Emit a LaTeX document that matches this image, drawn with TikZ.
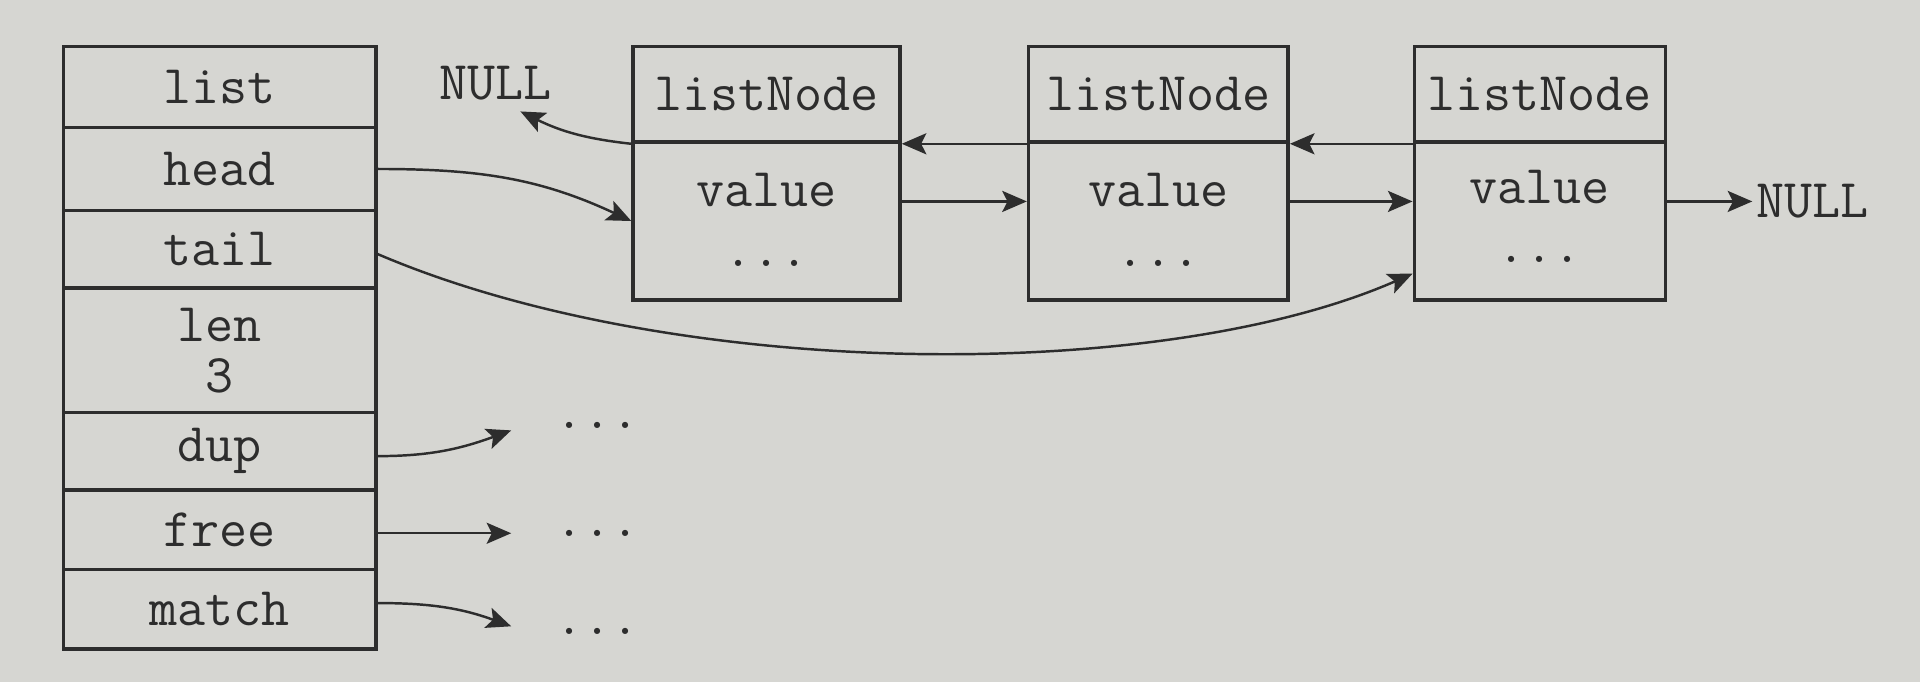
\documentclass[tikz,border=0pt]{standalone}
\usepackage{fontspec}
\usetikzlibrary{arrows.meta,calc}
\definecolor{paper}{RGB}{214,214,210}
\definecolor{ink}{RGB}{45,45,45}
\def\U{0.02449cm}
\begin{document}
\begin{tikzpicture}[x=0.02449cm,y=-0.02449cm,
  cell/.style={draw=ink, line width=2pt, inner sep=0pt, text=ink,
    font=\ttfamily\fontsize{31}{29}\selectfont, align=center},
  txt/.style={inner sep=2pt, text=ink, font=\ttfamily\fontsize{31}{29}\selectfont},
  conn/.style={draw=ink, line width=1.4pt, -{Stealth[length=14pt,width=12pt,inset=3pt]}}]
\fill[paper] (0,0) rectangle (1568,557);
\useasboundingbox (0,0) rectangle (1568,557);
% list structure
\node[cell, minimum width=255*\U, minimum height=66*\U]  (list)  at (179.5,71)    {list};
\node[cell, minimum width=255*\U, minimum height=68*\U]  (head)  at (179.5,138)   {head};
\node[cell, minimum width=255*\U, minimum height=63*\U]  (tail)  at (179.5,203.5) {tail};
\node[cell, minimum width=255*\U, minimum height=102*\U] (len)   at (179.5,286)   {len\\3};
\node[cell, minimum width=255*\U, minimum height=63*\U]  (dup)   at (179.5,368.5) {dup};
\node[cell, minimum width=255*\U, minimum height=65*\U]  (free)  at (179.5,432.5) {free};
\node[cell, minimum width=255*\U, minimum height=65*\U]  (match) at (179.5,497.5) {match};
% list nodes
\node[cell, minimum width=218*\U, minimum height=78*\U]  (h1) at (626,77)    {listNode};
\node[cell, minimum width=218*\U, minimum height=129*\U] (b1) at (626,180.5) {};
\node[cell, minimum width=212*\U, minimum height=78*\U]  (h2) at (946,77)    {listNode};
\node[cell, minimum width=212*\U, minimum height=129*\U] (b2) at (946,180.5) {};
\node[cell, minimum width=205*\U, minimum height=78*\U]  (h3) at (1257.5,77)    {listNode};
\node[cell, minimum width=205*\U, minimum height=129*\U] (b3) at (1257.5,180.5) {};
\node[txt] (v1) at (626,155) {value};
\node[txt] (d1) at (626,215) {...};
\node[txt] (v2) at (946,155) {value};
\node[txt] (d2) at (946,215) {...};
\node[txt] (v3) at (1257.5,153) {value};
\node[txt] (d3) at (1257.5,212) {...};
% NULLs and ellipses
\node[txt] (nl) at (405,68) {NULL};
\node[txt] (nr) at (1480,164.5) {NULL};
\node[txt, anchor=base] (e1) at (488,350) {...};
\node[txt, anchor=base] (e2) at (488,438) {...};
\node[txt, anchor=base] (e3) at (488,518) {...};
% connectors
\draw[conn] (head.east) to[out=0,in=155] (b1.west);
\draw[conn] ($(tail.east)+(0,4)$) .. controls +(243,104) and +(-205,90) .. ($(b3.west)+(0,43)$);
\draw[conn] ($(b1.east)+(0,-16)$) -- ($(b2.west)+(0,-16)$);
\draw[conn] ($(b2.east)+(0,-16)$) -- ($(b3.west)+(0,-16)$);
\draw[conn] ($(b3.east)+(0,-16)$) -- (nr.west);
\draw[conn] (h3.south west) -- (h2.south east);
\draw[conn] (h2.south west) -- (h1.south east);
\draw[conn] (h1.south west) to[bend left=10] ($(nl.south)+(20,6)$);
\draw[conn] ($(dup.east)+(0,4)$) to[out=0,in=200] ($(e1.west)+(-33,4)$);
\draw[conn] (free.east |- e2.west) -- ($(e2.west)+(-33,0)$);
\draw[conn] ($(match.east)+(0,-5)$) to[out=0,in=160] ($(e3.west)+(-33,-4)$);
\end{tikzpicture}
\end{document}
